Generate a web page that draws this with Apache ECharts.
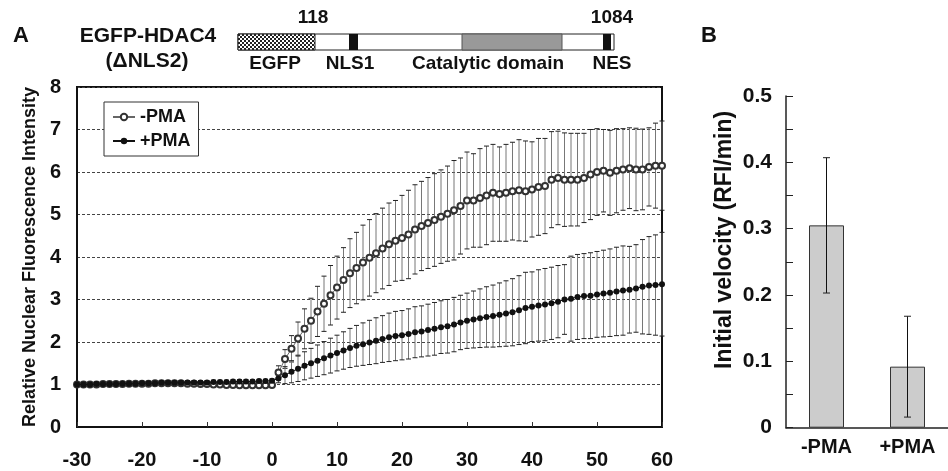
<!DOCTYPE html>
<html>
<head>
<meta charset="utf-8">
<script src="https://cdn.jsdelivr.net/npm/echarts@6/dist/echarts.min.js"></script>
<style>
  html, body { margin: 0; padding: 0; background: #fff; }
  #chart { width: 948px; height: 471px; }
</style>
</head>
<body>
<div id="chart"></div>
<script>
// time in minutes relative to PMA addition
const minutes = [
  -30, -29, -28, -27, -26, -25, -24, -23, -22, -21,
  -20, -19, -18, -17, -16, -15, -14, -13, -12, -11,
  -10, -9, -8, -7, -6, -5, -4, -3, -2, -1,
  0,
  1, 2, 3, 4, 5, 6, 7, 8, 9, 10,
  11, 12, 13, 14, 15, 16, 17, 18, 19, 20,
  21, 22, 23, 24, 25, 26, 27, 28, 29, 30,
  31, 32, 33, 34, 35, 36, 37, 38, 39, 40,
  41, 42, 43, 44, 45, 46, 47, 48, 49, 50,
  51, 52, 53, 54, 55, 56, 57, 58, 59, 60
];

const minusPmaMean = [
  1.00, 1.00, 1.00, 1.00, 1.01, 1.01, 1.01, 1.01, 1.02, 1.02,
  1.02, 1.02, 1.03, 1.03, 1.03, 1.03, 1.03, 1.02, 1.02, 1.01,
  1.01, 1.00, 1.00, 0.99, 0.99, 0.98, 0.98, 0.98, 0.98, 0.98,
  0.99,
  1.28, 1.60, 1.84, 2.08, 2.31, 2.50, 2.72, 2.90, 3.10, 3.28,
  3.46, 3.62, 3.74, 3.87, 3.98, 4.09, 4.20, 4.30, 4.38, 4.45,
  4.53, 4.65, 4.73, 4.80, 4.87, 4.95, 5.02, 5.10, 5.20, 5.33,
  5.33, 5.39, 5.45, 5.51, 5.48, 5.51, 5.55, 5.57, 5.55, 5.59,
  5.65, 5.67, 5.82, 5.86, 5.82, 5.82, 5.82, 5.86, 5.94, 6.00,
  6.03, 5.98, 6.03, 6.06, 6.09, 6.06, 6.06, 6.12, 6.15, 6.15
];
const minusPmaSd = [
  0.02, 0.02, 0.02, 0.03, 0.03, 0.03, 0.03, 0.03, 0.03, 0.03,
  0.03, 0.03, 0.03, 0.03, 0.03, 0.04, 0.04, 0.04, 0.04, 0.04,
  0.04, 0.04, 0.04, 0.04, 0.04, 0.04, 0.04, 0.04, 0.04, 0.04,
  0.05,
  0.16, 0.22, 0.31, 0.39, 0.47, 0.53, 0.59, 0.65, 0.70, 0.74,
  0.76, 0.81, 0.84, 0.88, 0.90, 0.93, 0.95, 0.97, 0.95, 1.00,
  1.04, 1.05, 1.05, 1.07, 1.09, 1.10, 1.12, 1.17, 1.13, 1.14,
  1.10, 1.16, 1.16, 1.14, 1.11, 1.14, 1.15, 1.19, 1.18, 1.12,
  1.14, 1.12, 1.13, 1.10, 1.10, 1.09, 1.09, 1.05, 1.06, 1.02,
  0.97, 1.00, 0.99, 0.96, 0.95, 0.97, 0.95, 0.92, 1.00, 1.05
];

const plusPmaMean = [
  1.00, 1.00, 1.00, 1.01, 1.01, 1.01, 1.01, 1.02, 1.02, 1.02,
  1.03, 1.03, 1.03, 1.04, 1.04, 1.04, 1.04, 1.05, 1.05, 1.05,
  1.05, 1.06, 1.06, 1.06, 1.07, 1.07, 1.07, 1.07, 1.08, 1.08,
  1.09,
  1.14, 1.22, 1.30, 1.37, 1.44, 1.50, 1.56, 1.62, 1.68, 1.74,
  1.80, 1.86, 1.91, 1.95, 1.99, 2.03, 2.07, 2.11, 2.14, 2.16,
  2.19, 2.23, 2.25, 2.28, 2.31, 2.35, 2.37, 2.41, 2.46, 2.50,
  2.53, 2.56, 2.59, 2.61, 2.64, 2.67, 2.70, 2.75, 2.80, 2.83,
  2.86, 2.88, 2.91, 2.95, 3.00, 3.02, 3.06, 3.08, 3.09, 3.12,
  3.14, 3.16, 3.19, 3.21, 3.23, 3.26, 3.30, 3.33, 3.34, 3.36
];
const plusPmaSd = [
  0.02, 0.02, 0.02, 0.02, 0.03, 0.03, 0.03, 0.03, 0.03, 0.03,
  0.03, 0.03, 0.03, 0.03, 0.03, 0.03, 0.04, 0.04, 0.04, 0.04,
  0.04, 0.04, 0.04, 0.04, 0.04, 0.04, 0.04, 0.04, 0.04, 0.04,
  0.04,
  0.10, 0.20, 0.26, 0.30, 0.33, 0.35, 0.37, 0.39, 0.41, 0.42,
  0.44, 0.46, 0.48, 0.50, 0.52, 0.54, 0.55, 0.57, 0.58, 0.58,
  0.59, 0.60, 0.60, 0.61, 0.62, 0.62, 0.63, 0.64, 0.64, 0.65,
  0.67, 0.69, 0.71, 0.73, 0.75, 0.77, 0.79, 0.81, 0.84, 0.82,
  0.84, 0.85, 0.85, 0.85, 0.82, 1.00, 1.00, 1.00, 1.01, 1.01,
  1.02, 1.03, 1.04, 1.05, 1.02, 1.03, 1.11, 1.15, 1.18, 1.22
];

// panel B
const groups = ['-PMA', '+PMA'];
const velocity = [0.305, 0.092];
const velocitySd = [0.102, 0.076];

const yTicksA = [0, 8, 1];
const yTicksB = [0, 0.5, 0.1];

const FONT = '"Liberation Sans", Arial, sans-serif';

function pairs(xs, ys) {
  return xs.map((x, i) => [x, ys[i]]);
}
function ranges(xs, means, sds) {
  return xs.map((x, i) => [x, means[i] - sds[i], means[i] + sds[i]]);
}

function errorBar(capHalf, barColor) {
  return function (params, api) {
    const hi = api.coord([api.value(0), api.value(2)]);
    const lo = api.coord([api.value(0), api.value(1)]);
    const x = hi[0];
    return {
      type: 'group',
      children: [
        { type: 'line', shape: { x1: x, y1: hi[1], x2: x, y2: lo[1] }, style: { stroke: barColor, lineWidth: 1 } },
        { type: 'line', shape: { x1: x - capHalf, y1: hi[1], x2: x + capHalf, y2: hi[1] }, style: { stroke: '#222', lineWidth: 1 } },
        { type: 'line', shape: { x1: x - capHalf, y1: lo[1], x2: x + capHalf, y2: lo[1] }, style: { stroke: '#222', lineWidth: 1 } }
      ]
    };
  };
}

// checkered fill for the EGFP block
function checker() {
  const c = document.createElement('canvas');
  c.width = 4; c.height = 4;
  const g = c.getContext('2d');
  g.fillStyle = '#fff'; g.fillRect(0, 0, 4, 4);
  g.fillStyle = '#222';
  g.fillRect(0, 0, 2, 2); g.fillRect(2, 2, 2, 2);
  return c;
}

const chart = echarts.init(document.getElementById('chart'), null, { renderer: 'canvas' });

const boldText = (t, x, y, size, align) => ({
  type: 'text', x: x, y: y,
  style: { text: t, font: 'bold ' + size + 'px ' + FONT, fill: '#111', align: align || 'center', verticalAlign: 'middle' }
});

const option = {
  animation: false,
  backgroundColor: '#fff',
  textStyle: { fontFamily: FONT },
  grid: [
    { left: 77, top: 87, width: 585, height: 340, show: true, borderColor: '#111', borderWidth: 2 },
    { left: 786, top: 96, width: 174, height: 331.7 }
  ],
  legend: {
    data: ['-PMA', '+PMA'],
    orient: 'vertical',
    left: 104, top: 102,
    padding: [6, 8, 6, 8],
    itemGap: 6,
    itemWidth: 22, itemHeight: 8,
    borderColor: '#333', borderWidth: 1,
    backgroundColor: '#fff',
    textStyle: { fontSize: 18, fontWeight: 'bold', color: '#111', fontFamily: FONT }
  },
  xAxis: [
    {
      type: 'value', gridIndex: 0, min: -30, max: 60, interval: 10,
      axisLine: { onZero: false, lineStyle: { color: '#111', width: 2 } },
      axisTick: { inside: true, length: 5, lineStyle: { color: '#333' } },
      splitLine: { show: false },
      axisLabel: { fontSize: 20, fontWeight: 'bold', color: '#111', margin: 23 }
    },
    {
      type: 'category', gridIndex: 1, data: groups,
      axisLine: { onZero: false, lineStyle: { color: '#222', width: 1.5 } },
      axisTick: { inside: true, length: 6, lineStyle: { color: '#222' } },
      axisLabel: { fontSize: 20, fontWeight: 'bold', color: '#111', margin: 10 }
    }
  ],
  yAxis: [
    {
      type: 'value', gridIndex: 0, min: yTicksA[0], max: yTicksA[1], interval: yTicksA[2],
      name: 'Relative Nuclear Fluorescence Intensity',
      nameLocation: 'middle', nameGap: 36,
      nameTextStyle: { fontSize: 18, fontWeight: 'bold', color: '#111' },
      axisLine: { onZero: false, lineStyle: { color: '#111', width: 2 } },
      axisTick: { show: false },
      splitLine: { lineStyle: { color: '#444', type: [3, 2], width: 1 } },
      axisLabel: { fontSize: 20, fontWeight: 'bold', color: '#111', margin: 16 }
    },
    {
      type: 'value', gridIndex: 1, min: yTicksB[0], max: yTicksB[1], interval: yTicksB[2],
      name: 'Initial velocity (RFI/min)',
      nameLocation: 'middle', nameGap: 50,
      nameTextStyle: { fontSize: 23, fontWeight: 'bold', color: '#111', padding: [0, 0, 0, 44] },
      axisLine: { show: true, onZero: false, lineStyle: { color: '#222', width: 1.5 } },
      axisTick: { show: true, inside: true, length: 7, lineStyle: { color: '#222' } },
      minorTick: { show: true, splitNumber: 2, length: 7, lineStyle: { color: '#222' } },
      splitLine: { show: false },
      axisLabel: {
        fontSize: 21, fontWeight: 'bold', color: '#111', margin: 14,
        formatter: v => (v === 0 ? '0' : v.toFixed(1))
      }
    }
  ],
  series: [
    {
      name: '-PMA err', type: 'custom', xAxisIndex: 0, yAxisIndex: 0, z: 1,
      renderItem: errorBar(2.5, '#777'),
      data: ranges(minutes, minusPmaMean, minusPmaSd)
    },
    {
      name: '+PMA err', type: 'custom', xAxisIndex: 0, yAxisIndex: 0, z: 1,
      renderItem: errorBar(2.5, '#777'),
      data: ranges(minutes, plusPmaMean, plusPmaSd)
    },
    {
      name: '-PMA', type: 'line', xAxisIndex: 0, yAxisIndex: 0, z: 3,
      symbol: 'emptyCircle', symbolSize: 6,
      lineStyle: { color: '#666', width: 1 },
      itemStyle: { color: '#333', borderColor: '#333', borderWidth: 1 },
      data: pairs(minutes, minusPmaMean)
    },
    {
      name: '+PMA', type: 'line', xAxisIndex: 0, yAxisIndex: 0, z: 4,
      symbol: 'circle', symbolSize: 6,
      lineStyle: { color: '#111', width: 1 },
      itemStyle: { color: '#111' },
      data: pairs(minutes, plusPmaMean)
    },
    {
      name: 'velocity', type: 'bar', xAxisIndex: 1, yAxisIndex: 1,
      barWidth: 35,
      itemStyle: { color: '#cccccc', borderColor: '#333', borderWidth: 1 },
      data: velocity
    },
    {
      name: 'velocity err', type: 'custom', xAxisIndex: 1, yAxisIndex: 1, z: 5,
      renderItem: errorBar(3.5, '#111'),
      data: ranges([0, 1], velocity, velocitySd)
    }
  ],
  graphic: [
    boldText('A', 21, 36, 22),
    boldText('B', 709, 36, 22),
    boldText('EGFP-HDAC4', 148, 36, 21),
    boldText('(\u0394NLS2)', 147, 61, 21),
    boldText('118', 313, 18, 19),
    boldText('1084', 612, 18, 19),
    boldText('EGFP', 275, 64, 19),
    boldText('NLS1', 350, 64, 19),
    boldText('Catalytic domain', 488, 64, 19),
    boldText('NES', 612, 64, 19),
    { type: 'rect', shape: { x: 238, y: 34, width: 376, height: 16 }, style: { fill: '#fff', stroke: '#222', lineWidth: 1 } },
    { type: 'rect', shape: { x: 238, y: 34, width: 77, height: 16 }, style: { fill: { image: checker(), repeat: 'repeat' }, stroke: '#222', lineWidth: 1 } },
    { type: 'rect', shape: { x: 349, y: 34, width: 9, height: 16 }, style: { fill: '#111' } },
    { type: 'rect', shape: { x: 462, y: 34, width: 100, height: 16 }, style: { fill: '#999', stroke: '#555', lineWidth: 1 } },
    { type: 'rect', shape: { x: 603, y: 34, width: 8, height: 16 }, style: { fill: '#111' } }
  ]
};

chart.setOption(option);
</script>
</body>
</html>
